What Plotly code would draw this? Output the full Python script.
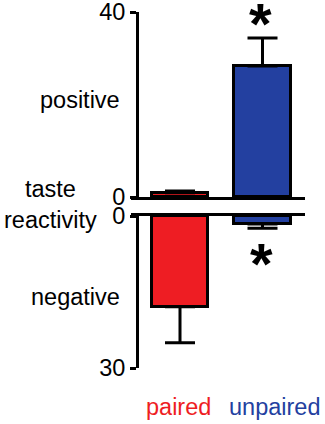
import plotly.graph_objects as go

categories = ["paired", "unpaired"]
positive_values = [0.9, 28.3]
positive_errors = [0.4, 6.1]
negative_values = [17.9, 1.6]
negative_errors = [7.1, 0.8]
bar_colors = ["#EE1D23", "#2340A0"]
x_pos = [0, 1]

W, H = 325, 424
def px(x):
    return x / W
def py(y):
    return 1 - y / H

FONT = "Liberation Sans, Arial, sans-serif"
FS = 23.5

fig = go.Figure()
fig.add_trace(go.Bar(
    x=x_pos, y=positive_values, width=0.68,
    marker=dict(color=bar_colors, line=dict(color="black", width=3)),
    error_y=dict(type="data", symmetric=False, array=positive_errors,
                 arrayminus=[0, 0], color="black", thickness=3, width=15),
    xaxis="x", yaxis="y", showlegend=False))
fig.add_trace(go.Bar(
    x=x_pos, y=negative_values, width=0.68,
    marker=dict(color=bar_colors, line=dict(color="black", width=3)),
    error_y=dict(type="data", symmetric=False, array=negative_errors,
                 arrayminus=[0, 0], color="black", thickness=3, width=15),
    xaxis="x2", yaxis="y2", showlegend=False))

xr = [(131 - 180) / 82.5, (305 - 180) / 82.5]
common_x = dict(range=xr, showline=True, linecolor="black", linewidth=3,
                showticklabels=False, ticks="", showgrid=False, zeroline=False,
                domain=[px(131), px(305)], automargin=False)
common_y = dict(showline=True, linecolor="black", linewidth=3, ticks="outside",
                ticklen=6, tickwidth=3, tickcolor="black", showgrid=False,
                zeroline=False, anchor="free", position=px(137), automargin=False,
                ticklabeloverflow="allow",
                tickfont=dict(family=FONT, size=FS, color="black"))

fig.update_layout(
    width=W, height=H, margin=dict(l=0, r=0, t=0, b=0, autoexpand=False),
    paper_bgcolor="white", plot_bgcolor="white",
    xaxis=dict(**common_x, anchor="y", side="bottom"),
    xaxis2=dict(**common_x, anchor="y2", side="top"),
    yaxis=dict(**common_y, range=[0, 40], tickvals=[0, 40],
               domain=[py(197), py(12)]),
    yaxis2=dict(**common_y, range=[30, 0], tickvals=[0, 30],
                domain=[py(368), py(216)]),
    bargap=0,
)

ann = [
    dict(text="positive", x=px(122), y=py(100), xanchor="right", yanchor="middle",
         font=dict(size=FS, color="black", family=FONT)),
    dict(text="negative", x=px(122), y=py(297), xanchor="right", yanchor="middle",
         font=dict(size=FS, color="black", family=FONT)),
    dict(text="taste<br>reactivity", x=px(50), y=py(205), xanchor="center", yanchor="middle",
         font=dict(size=FS, color="black", family=FONT)),
    dict(text=categories[0], x=px(178), y=py(407), xanchor="center", yanchor="middle",
         font=dict(size=FS, color=bar_colors[0], family=FONT)),
    dict(text=categories[1], x=px(274), y=py(407), xanchor="center", yanchor="middle",
         font=dict(size=FS, color=bar_colors[1], family=FONT)),
    dict(text="<b>*</b>", x=px(260), y=py(24), xanchor="center", yanchor="middle",
         font=dict(size=58, color="black", family=FONT)),
    dict(text="<b>*</b>", x=px(261), y=py(263), xanchor="center", yanchor="middle",
         font=dict(size=58, color="black", family=FONT)),
]
for a in ann:
    a.update(xref="paper", yref="paper", showarrow=False)
fig.update_layout(annotations=ann)

fig.write_html("out.html", config={"displayModeBar": False},
               post_script="document.body.style.margin='0';document.body.style.overflow='hidden';")
